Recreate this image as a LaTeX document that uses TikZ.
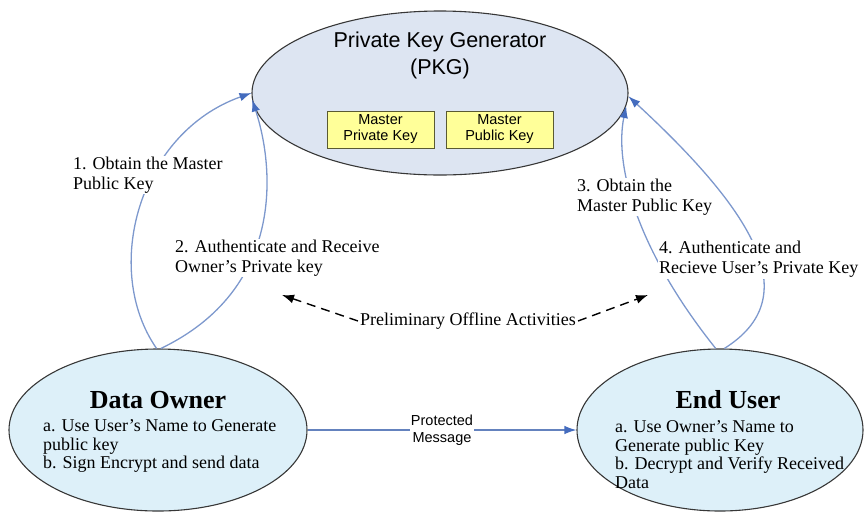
\documentclass[tikz,border=0pt]{standalone}
\usepackage{fontspec}
\setmainfont{Liberation Serif}
\setsansfont{Liberation Sans}
\usetikzlibrary{arrows.meta,shapes.geometric}
\definecolor{pkgfill}{RGB}{221,229,242}
\definecolor{entfill}{RGB}{221,240,249}
\definecolor{keyfill}{RGB}{255,255,153}
\definecolor{keyline}{RGB}{90,90,50}
\definecolor{flow}{RGB}{125,152,205}
\definecolor{flowhead}{RGB}{68,108,190}
\definecolor{msgline}{RGB}{100,130,190}
\definecolor{edgecol}{RGB}{55,55,55}
\begin{document}
\begin{tikzpicture}[x=1pt,y=-1pt,
  ell/.style={ellipse, draw=edgecol, line width=1.1pt, inner sep=0pt},
  keybox/.style={draw=keyline, fill=keyfill, line width=1pt, minimum width=107pt,
    minimum height=37pt, inner sep=0pt, align=center,
    font=\sffamily\fontsize{14.5}{16}\selectfont},
  flowarrow/.style={draw=flow, line width=1.3pt,
    -{Latex[length=12pt,width=8.5pt,color=flowhead]}},
  dasharrow/.style={draw=black, line width=1.4pt, dash pattern=on 9pt off 6pt,
    -{Latex[length=12pt,width=9pt]}},
  lbl/.style={anchor=west, align=left, fill=white, inner sep=1pt,
    font=\fontsize{18}{20}\selectfont},
  bodytext/.style={anchor=west, align=left, inner sep=0pt,
    font=\fontsize{18}{18.8}\selectfont},
  titletext/.style={font=\bfseries\fontsize{26}{28}\selectfont, inner sep=0pt}]
\useasboundingbox (0,0) rectangle (866,512);

% PKG
\node[ell, fill=pkgfill, minimum width=376pt, minimum height=164pt] (pkg) at (440,93) {};
\node[font=\sffamily\fontsize{21.5}{27}\selectfont, align=center, inner sep=0pt] (pkgt) at (440,55) {Private Key Generator\\(PKG)};
\node[keybox] (mpriv) at (380.5,129.5) {Master\\Private Key};
\node[keybox] (mpub) at (499.5,129.5) {Master\\Public Key};

% Data Owner
\node[ell, fill=entfill, minimum width=298pt, minimum height=162pt] (do) at (158,430) {};
\node[titletext] (dot) at (158,400) {Data Owner};
\node[bodytext] (dotx) at (43,446) {a. Use User's Name to Generate\\public key\\b. Sign Encrypt and send data};

% End User
\node[ell, fill=entfill, minimum width=286pt, minimum height=162pt] (eu) at (720,430) {};
\node[titletext] (eut) at (728,400) {End User};
\node[bodytext] (eutx) at (615,454.5) {a. Use Owner's Name to\\Generate public Key\\b. Decrypt and Verify Received\\Data};

% Protected message
\draw[flowarrow, draw=msgline] (do.east) -- node[fill=white, inner sep=1pt, align=center, font=\sffamily\fontsize{14.5}{17}\selectfont] (pm) {Protected\\Message} (eu.west);

% Curved flows
\draw[flowarrow] (do.91) .. controls +(-55,-79) and +(-113,40) .. (pkg.180);
\draw[flowarrow] (do.88) .. controls +(123,-59) and +(23,70) .. (pkg.182);
\node[lbl] (l1) at (72,175) {1. Obtain the Master\\Public Key};
\node[lbl] (l2) at (174,258) {2. Authenticate and Receive\\Owner's Private key};

\draw[flowarrow] (eu.93) .. controls +(-80,-100) and +(-12,58) .. (pkg.-4);
\node[lbl] (l3) at (576,197) {3. Obtain the\\Master Public Key};
\draw[flowarrow] (eu.87) .. controls +(80,-50) and +(130,120) .. (pkg.-1);
\node[lbl] (l4) at (658,259.5) {4. Authenticate and\\Recieve User's Private Key};

% Preliminary offline activities
\node[font=\fontsize{18}{20}\selectfont, inner sep=2pt] (pre) at (468,321) {Preliminary Offline Activities};
\coordinate (pl) at (282,295);
\coordinate (pr) at (648,295);
\draw[dasharrow] (pre.west) -- (pl);
\draw[dasharrow] (pre.east) -- (pr);
\end{tikzpicture}
\end{document}
